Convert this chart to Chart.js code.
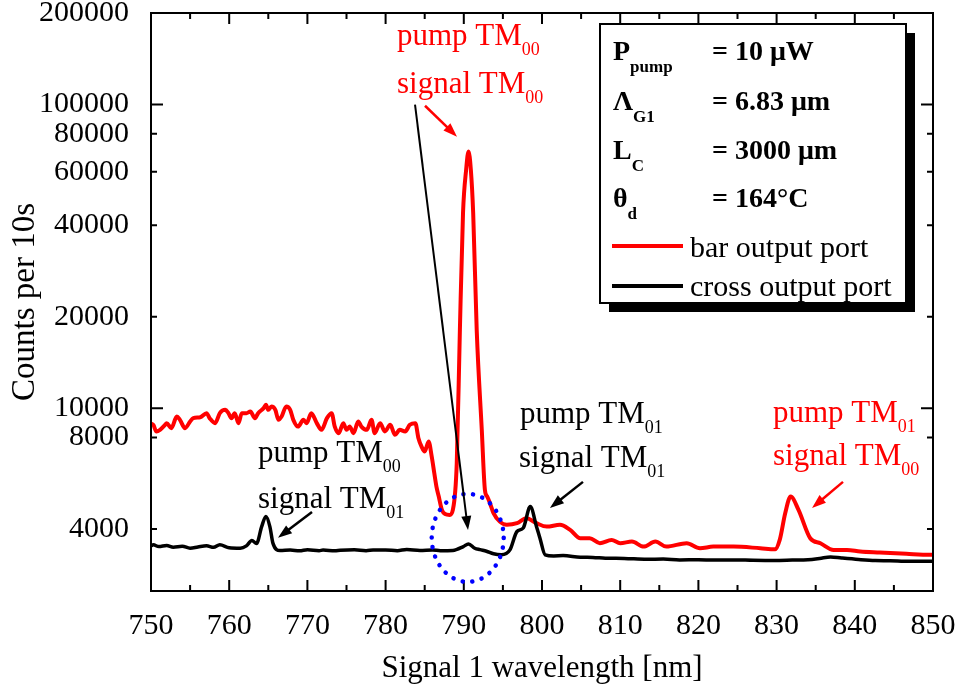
<!DOCTYPE html>
<html>
<head>
<meta charset="utf-8">
<script src="https://cdn.jsdelivr.net/npm/chart.js@4.4.0/dist/chart.umd.min.js"></script>
<style>
  body { margin: 0; background: #fff; }
  canvas { display: block; }
</style>
</head>
<body>
<canvas id="spectrum" width="960" height="693"></canvas>
<script>
// bar output port (red)
const wlBar = [
  750.0, 750.3, 750.7, 751.15, 751.8, 752.0, 752.6, 753.3, 753.7, 754.35,
  755.0, 755.4, 756.3, 757.1, 757.5, 758.2, 758.8, 759.5, 759.9, 760.3,
  760.7, 761.2, 761.6, 762.2, 762.7, 763.3, 763.7, 764.4, 764.7, 765.0,
  765.4, 765.9, 766.3, 766.7, 767.3, 767.8, 768.2, 768.8, 769.5, 769.9,
  770.5, 771.2, 771.8, 772.5, 773.1, 773.5, 774.0, 774.6, 775.0, 775.4,
  775.9, 776.5, 776.9, 777.6, 778.2, 778.6, 779.3, 779.9, 780.6, 781.2,
  781.8, 782.5, 783.1, 783.8, 784.2, 784.6, 785.0, 785.5, 785.9, 786.1,
  786.5, 786.8, 787.2, 787.6, 788.2, 788.6, 789.1, 789.5, 789.9, 790.3,
  790.6, 790.9, 791.2, 791.65, 792.3, 792.7, 793.0, 793.35, 793.8, 794.6,
  795.5, 796.8, 798.0, 799.3, 800.6, 802.3, 803.6, 804.9, 806.1, 807.4,
  808.9, 810.0, 811.5, 813.0, 814.5, 815.9, 818.5, 820.2, 821.9, 824.5,
  827.9, 829.8, 830.4, 831.1, 831.8, 832.8, 834.3, 835.6, 837.3, 839.0,
  840.7, 843.2, 846.6, 849.6, 850.0
];
const countsBar = [
  8900, 8810, 8374, 8482, 8810, 8925, 8592, 9382, 9152, 8592,
  9035, 9270, 9330, 9627, 9270, 8925, 9627, 9872, 9627, 9270,
  9627, 8925, 9627, 9627, 9745, 9270, 9627, 10000, 10253, 9872,
  10122, 9872, 9152, 9382, 10122, 9872, 9152, 8697, 9152, 8925,
  9627, 8925, 8482, 9270, 9627, 8697, 8273, 8925, 8482, 8697,
  8273, 9035, 8697, 8482, 9152, 8273, 8925, 8380, 8810, 8166,
  8482, 8380, 8810, 8925, 7965, 7470, 7195, 7762, 6929, 6420,
  5520, 5116, 4625, 4480, 4450, 4625, 6590, 18100, 43900, 61000,
  70000, 61000, 43900, 18100, 8480, 5380, 5116, 4865, 4510, 4230,
  4130, 4180, 4340, 4180, 4074, 4130, 3972, 3730, 3730, 3592,
  3683, 3592, 3637, 3500, 3637, 3500, 3592, 3458, 3500, 3500,
  3458, 3430, 3683, 4510, 5116, 4625, 3730, 3592, 3414, 3414,
  3370, 3345, 3313, 3290, 3290
];

// cross output port (black)
const wlCross = [
  750.0, 750.3, 751.0, 752.0, 752.85, 754.0, 755.0, 756.0, 757.1, 758.0,
  758.8, 760.0, 761.4, 762.2, 762.9, 763.5, 764.15, 764.7, 765.2, 765.6,
  766.5, 767.8, 769.0, 770.0, 771.5, 772.0, 773.5, 774.2, 776.0, 777.5,
  778.4, 780.0, 781.5, 782.7, 784.4, 786.0, 787.0, 788.6, 789.94, 790.6,
  791.4, 792.07, 792.9, 793.8, 794.8, 795.9, 796.8, 797.6, 798.5, 799.3,
  799.74, 800.4, 801.5, 802.7, 804.9, 806.5, 808.1, 810.5, 813.4, 815.5,
  817.6, 820.0, 822.0, 824.5, 827.0, 829.7, 832.0, 834.0, 835.5, 836.9,
  838.3, 840.5, 842.6, 844.5, 846.9, 848.5, 850.0
];
const countsCross = [
  3520, 3548, 3500, 3530, 3486, 3510, 3458, 3490, 3520, 3480,
  3548, 3470, 3458, 3520, 3664, 3586, 4074, 4396, 4074, 3586,
  3397, 3410, 3390, 3420, 3395, 3410, 3390, 3405, 3420, 3395,
  3410, 3414, 3395, 3425, 3400, 3410, 3395, 3400, 3500, 3573,
  3458, 3420, 3380, 3314, 3290, 3414, 3925, 4030, 4742, 4070,
  3730, 3290, 3262, 3270, 3230, 3225, 3206, 3200, 3180, 3185,
  3165, 3170, 3160, 3165, 3155, 3150, 3160, 3170, 3200, 3235,
  3210, 3175, 3150, 3145, 3130, 3135, 3130
];

const yTicks = [4000, 8000, 10000, 20000, 40000, 60000, 80000, 100000, 200000];
const xMajor = [750, 760, 770, 780, 790, 800, 810, 820, 830, 840, 850];
const xMinor = [755, 765, 775, 785, 795, 805, 815, 825, 835, 845];

const SERIF = '"Liberation Serif", "Times New Roman", serif';

function toPoints(xs, ys) {
    return xs.map((x, i) => ({ x: x, y: ys[i] }));
}

// texte avec indice
function subText(ctx, x, y, main, sub, font, subFont, dy) {
    ctx.font = font;
    ctx.fillText(main, x, y);
    const w = ctx.measureText(main).width;
    ctx.font = subFont;
    ctx.fillText(sub, x + w, y + dy);
}

function arrow(ctx, x1, y1, x2, y2, color, lw) {
    const ang = Math.atan2(y2 - y1, x2 - x1);
    const len = 14, half = 5;
    ctx.strokeStyle = color;
    ctx.fillStyle = color;
    ctx.lineWidth = lw;
    ctx.beginPath();
    ctx.moveTo(x1, y1);
    ctx.lineTo(x2 - Math.cos(ang) * len * 0.8, y2 - Math.sin(ang) * len * 0.8);
    ctx.stroke();
    ctx.beginPath();
    ctx.moveTo(x2, y2);
    ctx.lineTo(x2 - Math.cos(ang) * len - Math.sin(ang) * half, y2 - Math.sin(ang) * len + Math.cos(ang) * half);
    ctx.lineTo(x2 - Math.cos(ang) * len + Math.sin(ang) * half, y2 - Math.sin(ang) * len - Math.cos(ang) * half);
    ctx.closePath();
    ctx.fill();
}

const frameAndNotes = {
    id: 'frameAndNotes',
    afterDraw(chart) {
        const { ctx, chartArea: a, scales } = chart;
        const sx = scales.x, sy = scales.y;
        ctx.save();

        // cadre + ticks vers l'intérieur
        ctx.strokeStyle = '#000';
        ctx.lineWidth = 2;
        ctx.strokeRect(a.left, a.top, a.right - a.left, a.bottom - a.top);
        ctx.beginPath();
        xMajor.concat(xMinor).forEach(v => {
            const px = sx.getPixelForValue(v);
            const l = xMajor.includes(v) ? 11 : 6;
            ctx.moveTo(px, a.bottom); ctx.lineTo(px, a.bottom - l);
            ctx.moveTo(px, a.top); ctx.lineTo(px, a.top + l);
        });
        yTicks.forEach(v => {
            const py = sy.getPixelForValue(v);
            const l = (v === 10000 || v === 100000) ? 12 : 6;
            ctx.moveTo(a.left, py); ctx.lineTo(a.left + l, py);
            ctx.moveTo(a.right, py); ctx.lineTo(a.right - l, py);
        });
        ctx.stroke();

        // cercle pointillé bleu
        const cx = sx.getPixelForValue(790.5), cy = sy.getPixelForValue(3740);
        ctx.strokeStyle = '#0000ff';
        ctx.lineWidth = 4.5;
        ctx.lineCap = 'round';
        ctx.setLineDash([0.1, 9.6]);
        ctx.beginPath();
        ctx.ellipse(cx, cy, 36, 44, 0, 0, Math.PI * 2);
        ctx.stroke();
        ctx.setLineDash([]);
        ctx.lineCap = 'butt';

        // flèches
        const P = (l, c) => [sx.getPixelForValue(l), sy.getPixelForValue(c)];
        let p1, p2;
        p1 = P(785.04, 99000); p2 = P(789.13, 78300);
        arrow(ctx, p1[0], p1[1], p2[0], p2[1], '#ff0000', 2.5);
        p1 = P(783.76, 99800); p2 = P(790.54, 3970);
        arrow(ctx, p1[0], p1[1], p2[0], p2[1], '#000', 2);
        p1 = P(770.59, 4553); p2 = P(766.24, 3740);
        arrow(ctx, p1[0], p1[1], p2[0], p2[1], '#000', 2.5);
        p1 = P(805.24, 5718); p2 = P(801.02, 4694);
        arrow(ctx, p1[0], p1[1], p2[0], p2[1], '#000', 2.5);
        p1 = P(838.49, 5718); p2 = P(834.53, 4694);
        arrow(ctx, p1[0], p1[1], p2[0], p2[1], '#ff0000', 2.5);

        // étiquettes
        const f = '31px ' + SERIF, fs = '18px ' + SERIF;
        ctx.textAlign = 'left';
        ctx.textBaseline = 'alphabetic';
        ctx.fillStyle = '#ff0000';
        subText(ctx, 397, 45, 'pump TM', '00', f, fs, 10);
        subText(ctx, 397, 93, 'signal TM', '00', f, fs, 10);
        subText(ctx, 773, 422, 'pump TM', '01', f, fs, 10);
        subText(ctx, 773, 465, 'signal TM', '00', f, fs, 10);
        ctx.fillStyle = '#000';
        subText(ctx, 258, 462, 'pump TM', '00', f, fs, 10);
        subText(ctx, 258, 508, 'signal TM', '01', f, fs, 10);
        subText(ctx, 520, 423, 'pump TM', '01', f, fs, 10);
        subText(ctx, 519, 467, 'signal TM', '01', f, fs, 10);

        // boîte de légende
        const bx = 600, by = 24, bw = 306, bh = 279;
        ctx.fillStyle = '#000';
        ctx.fillRect(bx + 9, by + 9, bw, bh);
        ctx.fillStyle = '#fff';
        ctx.fillRect(bx, by, bw, bh);
        ctx.strokeStyle = '#000';
        ctx.lineWidth = 2;
        ctx.strokeRect(bx, by, bw, bh);

        const fb = 'bold 28px ' + SERIF, fbs = 'bold 17px ' + SERIF;
        ctx.fillStyle = '#000';
        const rows = [
            ['P', 'pump', '= 10 \u03BCW', 60],
            ['\u039B', 'G1', '= 6.83 \u03BCm', 110],
            ['L', 'C', '= 3000 \u03BCm', 159],
            ['\u03B8', 'd', '= 164\u00B0C', 207]
        ];
        rows.forEach(r => {
            subText(ctx, 613, r[3], r[0], r[1], fb, fbs, 12);
            ctx.font = fb;
            ctx.fillText(r[2], 712, r[3]);
        });

        ctx.lineWidth = 4;
        ctx.strokeStyle = '#ff0000';
        ctx.beginPath(); ctx.moveTo(612, 246); ctx.lineTo(683, 246); ctx.stroke();
        ctx.strokeStyle = '#000';
        ctx.beginPath(); ctx.moveTo(612, 286); ctx.lineTo(683, 286); ctx.stroke();
        ctx.font = '30px ' + SERIF;
        ctx.fillText('bar output port', 690, 257);
        ctx.fillText('cross output port', 690, 296);

        ctx.restore();
    }
};

document.addEventListener('DOMContentLoaded', () => {
    const ctx = document.getElementById('spectrum').getContext('2d');

    new Chart(ctx, {
        type: 'line',
        data: {
            datasets: [
                {
                    label: 'cross output port',
                    data: toPoints(wlCross, countsCross),
                    borderColor: '#000000',
                    borderWidth: 3.5,
                    pointRadius: 0,
                    cubicInterpolationMode: 'monotone',
                    order: 0
                },
                {
                    label: 'bar output port',
                    data: toPoints(wlBar, countsBar),
                    borderColor: '#ff0000',
                    borderWidth: 4,
                    pointRadius: 0,
                    cubicInterpolationMode: 'monotone',
                    order: 1
                }
            ]
        },
        options: {
            responsive: false,
            animation: false,
            layout: { padding: { top: 13, right: 27, left: 0, bottom: 0 } },
            plugins: {
                legend: { display: false },
                tooltip: { enabled: false }
            },
            scales: {
                x: {
                    type: 'linear',
                    min: 750,
                    max: 850,
                    grid: { display: false },
                    border: { display: false },
                    ticks: {
                        stepSize: 10,
                        color: '#000',
                        padding: 9,
                        maxRotation: 0,
                        font: { family: SERIF, size: 30 }
                    },
                    title: {
                        display: true,
                        text: 'Signal 1 wavelength [nm]',
                        color: '#000',
                        padding: { top: 0, bottom: 6 },
                        font: { family: SERIF, size: 31 }
                    },
                    afterFit(scale) {
                        scale.height = 102;
                        scale.paddingLeft = 0;
                        scale.paddingRight = 0;
                    }
                },
                y: {
                    type: 'logarithmic',
                    min: 2500,
                    max: 200000,
                    grid: { display: false },
                    border: { display: false },
                    afterBuildTicks(scale) {
                        scale.ticks = yTicks.map(v => ({ value: v }));
                    },
                    ticks: {
                        color: '#000',
                        padding: 14,
                        font: { family: SERIF, size: 30 },
                        callback: v => String(v)
                    },
                    title: {
                        display: true,
                        text: 'Counts per 10s',
                        color: '#000',
                        padding: { top: 6, bottom: 0 },
                        font: { family: SERIF, size: 33 }
                    },
                    afterFit(scale) {
                        scale.width = 151;
                        scale.paddingTop = 0;
                        scale.paddingBottom = 0;
                    }
                }
            }
        },
        plugins: [frameAndNotes]
    });
});
</script>
</body>
</html>
